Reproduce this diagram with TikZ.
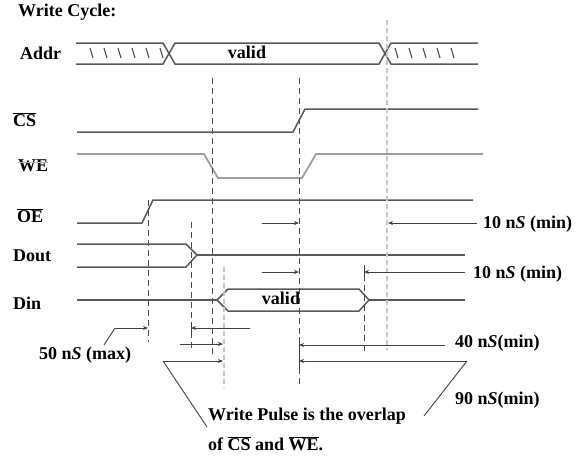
\documentclass[tikz,border=0pt]{standalone}
\usepackage{fontspec}
\setmainfont{Liberation Serif}
\usetikzlibrary{arrows.meta}
\newcommand\ovl[1]{$\overline{\mbox{#1}}$}
\begin{document}
\begin{tikzpicture}[x=1pt,y=-1pt,
  sig/.style={line width=1.5pt, draw=black!65},
  sigl/.style={line width=1.8pt, draw=black!38},
  hatch/.style={line width=1.1pt, draw=black!70},
  guide/.style={line width=1pt, draw=black!70, dash pattern=on 6pt off 4pt},
  faint/.style={line width=2pt, draw=black!22, dash pattern=on 5pt off 3pt},
  dim/.style={line width=1pt, draw=black!75, -{Stealth[length=5pt,width=4pt]}},
  ticky/.style={line width=1pt, draw=black!75},
  leader/.style={line width=0.9pt, draw=black!75},
  lbl/.style={font=\fontsize{18}{20}\selectfont\bfseries, inner sep=0pt},
]
\useasboundingbox (0,0) rectangle (582,458);

% ---- labels ----
\node[lbl, anchor=west] (title) at (18,12) {Write Cycle:};
\node[lbl, anchor=west] (laddr) at (20,53) {Addr};
\node[lbl, anchor=west] (lcs) at (13,120) {\ovl{CS}};
\node[lbl, anchor=west] (lwe) at (18,166) {WE};
\draw[line width=1.2pt, black!30] ([yshift=-2.5pt]lwe.north west) -- ([yshift=-2.5pt]lwe.north east);
\node[lbl, anchor=west] (loe) at (17,216) {\ovl{OE}};
\node[lbl, anchor=west] (ldout) at (13,256) {Dout};
\node[lbl, anchor=west] (ldin) at (13,303) {Din};
\node[lbl] (v1) at (247,52) {valid};
\node[lbl] (v2) at (281,298) {valid};

\node[lbl, anchor=west] (t1) at (483,224) {10 n\textit{S} (min)};
\node[lbl, anchor=west] (t2) at (473,274) {10 n\textit{S} (min)};
\node[lbl, anchor=west] (t3) at (455,343) {40 n\textit{S}(min)};
\node[lbl, anchor=west] (t4) at (455,400) {90 n\textit{S}(min)};
\node[lbl, anchor=west] (t5) at (39,355) {50 n\textit{S} (max)};
\node[lbl, anchor=west] (wp1) at (208,416) {Write Pulse is the overlap};
\node[lbl, anchor=west] (wp2) at (208,444) {of \ovl{CS} and \ovl{WE}.};

% ---- Addr bus ----
\draw[sig] (76,43) -- (163,43) -- (169,53.5) -- (163,64) -- (76,64);
\draw[sig] (169,53.5) -- (175,43) -- (379,43) -- (385,53.5) -- (379,64) -- (175,64) -- cycle;
\draw[sig] (478,43) -- (391,43) -- (385,53.5) -- (391,64) -- (478,64);
\foreach \x in {90,104,118,132,146,160} \draw[hatch] (\x,48) -- (\x+3,58);
\foreach \x in {395,409,423,437,451} \draw[hatch] (\x,48) -- (\x+3,58);

% ---- CS ----
\draw[sig] (77,132) -- (293,132) -- (305,109) -- (478,109);
% ---- WE ----
\draw[sigl] (77,154) -- (204,154) -- (218,178) -- (302,178) -- (316,154) -- (483,154);
% ---- OE ----
\draw[sig] (77,223) -- (142,223) -- (153,200) -- (473,200);
% ---- Dout ----
\draw[sig] (77,244) -- (186,244) -- (197,255) -- (186,267) -- (77,267);
\draw[sig] (197,255) -- (465,255);
% ---- Din ----
\draw[sig] (77,300) -- (217,300);
\draw[sig] (217,300) -- (228,289) -- (359,289) -- (369,300) -- (359,311) -- (228,311) -- cycle;
\draw[sig] (369,300) -- (465,300);

% ---- guide lines ----
\draw[guide] (148,200) -- (148,342);
\draw[guide] (191,222) -- (191,352);
\draw[guide] (212,78) -- (212,355);
\draw[guide] (299,78) -- (299,385);
\draw[guide] (364,265) -- (364,353);
\draw[faint] (224,267) -- (224,388);
\draw[faint] (387,20) -- (387,350);

% ---- dimension arrows ----
\draw[dim] (262,223) -- (299,223);
\draw[dim] (477,223) -- (388,223);
\draw[dim] (262,272) -- (299,272);
\draw[dim] (465,272) -- (364,272);
\draw[ticky] (364,266) -- (364,278);
\draw[dim] (115,328) -- (148,328);
\draw[leader] (115,328) -- (104,345);
\draw[dim] (250,328) -- (191,328);
\draw[ticky] (191,322) -- (191,334);
\draw[dim] (180,344) -- (223,344);
\draw[dim] (445,345) -- (299,345);
\draw[ticky] (299,337) -- (299,353);
\draw[dim] (163,361) -- (223,361);
\draw[leader] (163,361) -- (207,427);
\draw[dim] (467,361) -- (299,361);
\draw[ticky] (299,353) -- (299,369);
\draw[leader] (467,361) -- (424,416);
\end{tikzpicture}
\end{document}
